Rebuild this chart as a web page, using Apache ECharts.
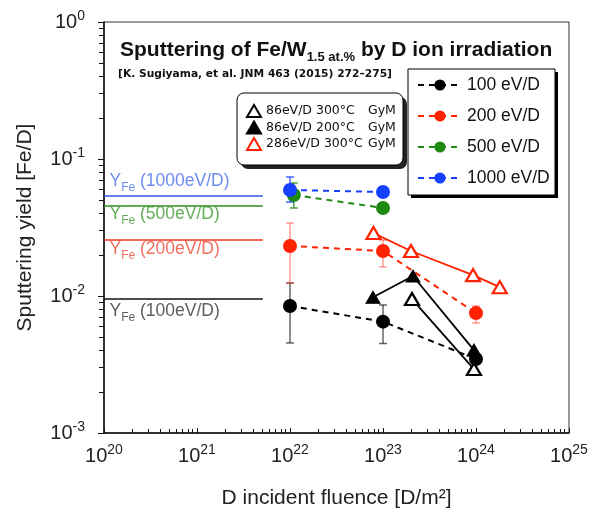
<!DOCTYPE html>
<html><head><meta charset="utf-8">
<script src="https://cdn.jsdelivr.net/npm/echarts@6/dist/echarts.min.js"></script>
<style>html,body{margin:0;padding:0;background:#fff}#c{width:589px;height:509px}</style>
</head><body><div id="c"></div>
<script>
// ---------------- data ----------------
const energyNames = ['100 eV/D', '200 eV/D', '500 eV/D', '1000 eV/D'];
const fluence100 = [1e22, 1e23, 1e24];
const yield100 = [0.00845, 0.0065, 0.00347];
const errLow100 = [0.00454, 0.0045, null];
const errHigh100 = [0.01245, 0.0086, null];
const fluence200 = [1e22, 1e23, 1e24];
const yield200 = [0.0232, 0.0213, 0.0075];
const errLow200 = [0.01245, 0.0163, 0.00635];
const errHigh200 = [0.0341, 0.0256, 0.00845];
const fluence500 = [1.1e22, 1e23];
const yield500 = [0.0546, 0.0439];
const errLow500 = [0.0439, null];
const errHigh500 = [0.0668, null];
const fluence1000 = [1e22, 1e23];
const yield1000 = [0.0594, 0.0574];
const errLow1000 = [0.0485, null];
const errHigh1000 = [0.0739, null];

const gymNames = ['86eV/D 300°C GyM', '86eV/D 200°C GyM', '286eV/D 300°C GyM'];
const fluenceGym86_300 = [2.05e23, 9.5e23];
const yieldGym86_300 = [0.0095, 0.00293];
const fluenceGym86_200 = [7.8e22, 2.1e23, 9.5e23];
const yieldGym86_200 = [0.0098, 0.014, 0.00403];
const fluenceGym286_300 = [7.9e22, 2.0e23, 9.3e23, 1.8e24];
const yieldGym286_300 = [0.0288, 0.0213, 0.0142, 0.0116];

const yfeEnergies = ['1000eV/D', '500eV/D', '200eV/D', '100eV/D'];
const yfeValues = [0.0537, 0.0454, 0.0256, 0.0095];
const yfeFluenceStart = 1e20;
const yfeFluenceEnd = 5.1e21;
const yfeLabelFluence = 1.16e20;

const xAxisMin = 1e20, xAxisMax = 1e25;
const yAxisMin = 1e-3, yAxisMax = 1;

// ---------------- styles ----------------
const C = { k: '#000000', r: '#ff2200', g: '#1e8a12', b: '#1540ff' };
const errColors = { k: 'rgba(0,0,0,0.6)', r: 'rgba(255,60,40,0.5)', g: 'rgba(30,138,18,0.8)', b: 'rgba(21,64,255,0.8)' };
const yfeColors = ['#2f56e8', '#2f8f1f', '#f0321c', '#111111'];
const yfeTextColors = ['#4a6ef0', '#3f9a30', '#f04a35', '#333333'];
const yfeLabelOffsets = [-14, 9, 10, 13];

const zip = (xs, ys) => xs.map((x, i) => [x, ys[i]]);
const errData = (xs, lo, hi) => xs.map((x, i) => [x, lo[i], hi[i]]).filter(d => d[1] != null);

function errSeries(data, color) {
  return {
    type: 'custom', silent: true, z: 2,
    data: data, encode: { x: 0, y: [1, 2] },
    renderItem: function (params, api) {
      const x = api.value(0), lo = api.value(1), hi = api.value(2);
      const p1 = api.coord([x, hi]), p2 = api.coord([x, lo]);
      const w = 4;
      const st = { stroke: color, lineWidth: 1.5 };
      return { type: 'group', children: [
        { type: 'line', shape: { x1: p1[0], y1: p1[1], x2: p2[0], y2: p2[1] }, style: st },
        { type: 'line', shape: { x1: p1[0] - w, y1: p1[1], x2: p1[0] + w, y2: p1[1] }, style: st },
        { type: 'line', shape: { x1: p2[0] - w, y1: p2[1], x2: p2[0] + w, y2: p2[1] }, style: st }
      ]};
    }
  };
}

function energySeries(name, xs, ys, color) {
  return {
    name: name, type: 'line', z: 3,
    data: zip(xs, ys),
    symbol: 'circle', symbolSize: 14,
    itemStyle: { color: color },
    lineStyle: { color: color, width: 2, type: [6, 5] }
  };
}

function gymSeries(name, xs, ys, color, filled) {
  return {
    name: name, type: 'line', z: 4,
    data: zip(xs, ys),
    symbol: 'triangle', symbolSize: [14, 12],
    itemStyle: filled ? { color: color, borderColor: color, borderWidth: 1 } : { color: '#ffffff', borderColor: color, borderWidth: 2.2 },
    lineStyle: { color: color, width: 1.8, type: 'solid' }
  };
}

const series = [];
yfeValues.forEach((v, i) => {
  series.push({
    type: 'line', silent: true, z: 1, symbol: 'none',
    data: [[yfeFluenceStart, v], [yfeFluenceEnd, v]],
    lineStyle: { color: yfeColors[i], width: 1.6 }
  });
  series.push({
    type: 'scatter', silent: true, z: 1, symbolSize: 1,
    itemStyle: { color: 'rgba(0,0,0,0)' },
    data: [[yfeLabelFluence, v]],
    label: {
      show: true, position: [0, yfeLabelOffsets[i]], align: 'left', verticalAlign: 'middle',
      formatter: '{y|Y}{s|Fe}{t| (' + yfeEnergies[i] + ')}',
      rich: {
        y: { fontSize: 17.5, color: yfeTextColors[i], fontFamily: 'Liberation Sans', lineHeight: 24 },
        s: { fontSize: 12, color: yfeTextColors[i], fontFamily: 'Liberation Sans', verticalAlign: 'bottom', lineHeight: 12 },
        t: { fontSize: 17.5, color: yfeTextColors[i], fontFamily: 'Liberation Sans', lineHeight: 24 }
      }
    }
  });
});
series.push(errSeries(errData(fluence100, errLow100, errHigh100), errColors.k));
series.push(errSeries(errData(fluence200, errLow200, errHigh200), errColors.r));
series.push(errSeries(errData(fluence500, errLow500, errHigh500), errColors.g));
series.push(errSeries(errData(fluence1000, errLow1000, errHigh1000), errColors.b));
series.push(energySeries(energyNames[0], fluence100, yield100, C.k));
series.push(energySeries(energyNames[1], fluence200, yield200, C.r));
series.push(energySeries(energyNames[2], fluence500, yield500, C.g));
series.push(energySeries(energyNames[3], fluence1000, yield1000, C.b));
series.push(gymSeries(gymNames[0], fluenceGym86_300, yieldGym86_300, C.k, false));
series.push(gymSeries(gymNames[1], fluenceGym86_200, yieldGym86_200, C.k, true));
series.push(gymSeries(gymNames[2], fluenceGym286_300, yieldGym286_300, C.r, false));

const powLabel = v => {
  const e = Math.round(Math.log10(v));
  return '{b|10}{s|' + e + '}';
};
const labelRich = {
  b: { fontSize: 20, color: '#222', fontFamily: 'Liberation Sans', lineHeight: 26 },
  s: { fontSize: 14, color: '#222', fontFamily: 'Liberation Sans', verticalAlign: 'top', lineHeight: 14 }
};

const chart = echarts.init(document.getElementById('c'), null, { renderer: 'canvas' });
chart.setOption({
  backgroundColor: '#ffffff',
  animation: false,
  title: [{
    text: '{m|Sputtering of Fe/W}{s|1.5 at.%}{m| by D ion irradiation}',
    left: 115, top: 31,
    textStyle: { rich: {
      m: { fontSize: 21, fontWeight: 'bold', color: '#111', fontFamily: 'Liberation Sans', lineHeight: 28 },
      s: { fontSize: 13, fontWeight: 'bold', color: '#111', fontFamily: 'Liberation Sans', verticalAlign: 'bottom', lineHeight: 13 }
    } }
  }, {
    text: '[K. Sugiyama, et al. JNM 463 (2015) 272–275]',
    left: 113, top: 64,
    textStyle: { fontSize: 10.7, fontWeight: 'bold', color: '#111', fontFamily: 'DejaVu Sans' }
  }],
  grid: { left: 104, right: 20, top: 22, bottom: 76, outerBoundsMode: 'none', containLabel: false, show: true, borderColor: '#333', borderWidth: 1, backgroundColor: 'transparent' },
  xAxis: {
    type: 'log', logBase: 10, min: xAxisMin, max: xAxisMax,
    axisLine: { lineStyle: { color: '#111', width: 1.5 } },
    axisTick: { inside: true, length: 5, lineStyle: { color: '#111' } },
    minorTick: { show: true, splitNumber: 9, length: 4, lineStyle: { color: '#111' } },
    splitLine: { show: false },
    axisLabel: { formatter: powLabel, rich: labelRich, margin: 10 },
    name: 'D incident fluence [D/m²]', nameLocation: 'middle', nameGap: 55,
    nameTextStyle: { fontSize: 21, color: '#222', fontFamily: 'Liberation Sans' }
  },
  yAxis: {
    type: 'log', logBase: 10, min: yAxisMin, max: yAxisMax,
    axisLine: { lineStyle: { color: '#111', width: 1.5 } },
    axisTick: { inside: false, length: 6, lineStyle: { color: '#111' } },
    minorTick: { show: true, splitNumber: 9, length: 5, lineStyle: { color: '#111' } },
    splitLine: { show: false },
    axisLabel: { formatter: powLabel, rich: labelRich, margin: 19 },
    name: 'Sputtering yield [Fe/D]', nameLocation: 'middle', nameGap: 68,
    nameTextStyle: { fontSize: 21, color: '#222', fontFamily: 'Liberation Sans' }
  },
  legend: [{
    data: energyNames, orient: 'vertical', left: 412, top: 71,
    itemWidth: 44, itemHeight: 14, itemGap: 13,
    textStyle: { fontSize: 17.5, color: '#111', fontFamily: 'Liberation Sans' },
    selectedMode: false, z: 10
  }, {
    data: gymNames.map(n => ({ name: n, icon: 'triangle' })),
    orient: 'vertical', left: 241, top: 99,
    itemWidth: 14, itemHeight: 12, itemGap: 2.5,
    formatter: n => '{a|' + n.replace(' GyM', '') + '}{b|GyM}',
    textStyle: { rich: {
      a: { fontSize: 12.5, color: '#111', fontFamily: 'DejaVu Sans', width: 102 },
      b: { fontSize: 12.5, color: '#111', fontFamily: 'DejaVu Sans' }
    } },
    selectedMode: false, z: 10
  }],
  graphic: [
    { type: 'rect', z: 8, shape: { x: 411, y: 72, width: 147, height: 126 }, style: { fill: '#000' } },
    { type: 'rect', z: 9, shape: { x: 408, y: 69, width: 147, height: 126 }, style: { fill: '#fff', stroke: '#000', lineWidth: 1 } },
    { type: 'rect', z: 8, shape: { x: 241, y: 97, width: 166, height: 72, r: 7 }, style: { fill: '#222' } },
    { type: 'rect', z: 9, shape: { x: 237, y: 93, width: 166, height: 72, r: 7 }, style: { fill: '#fff', stroke: '#000', lineWidth: 1 } }
  ],
  series: series
});
</script></body></html>
